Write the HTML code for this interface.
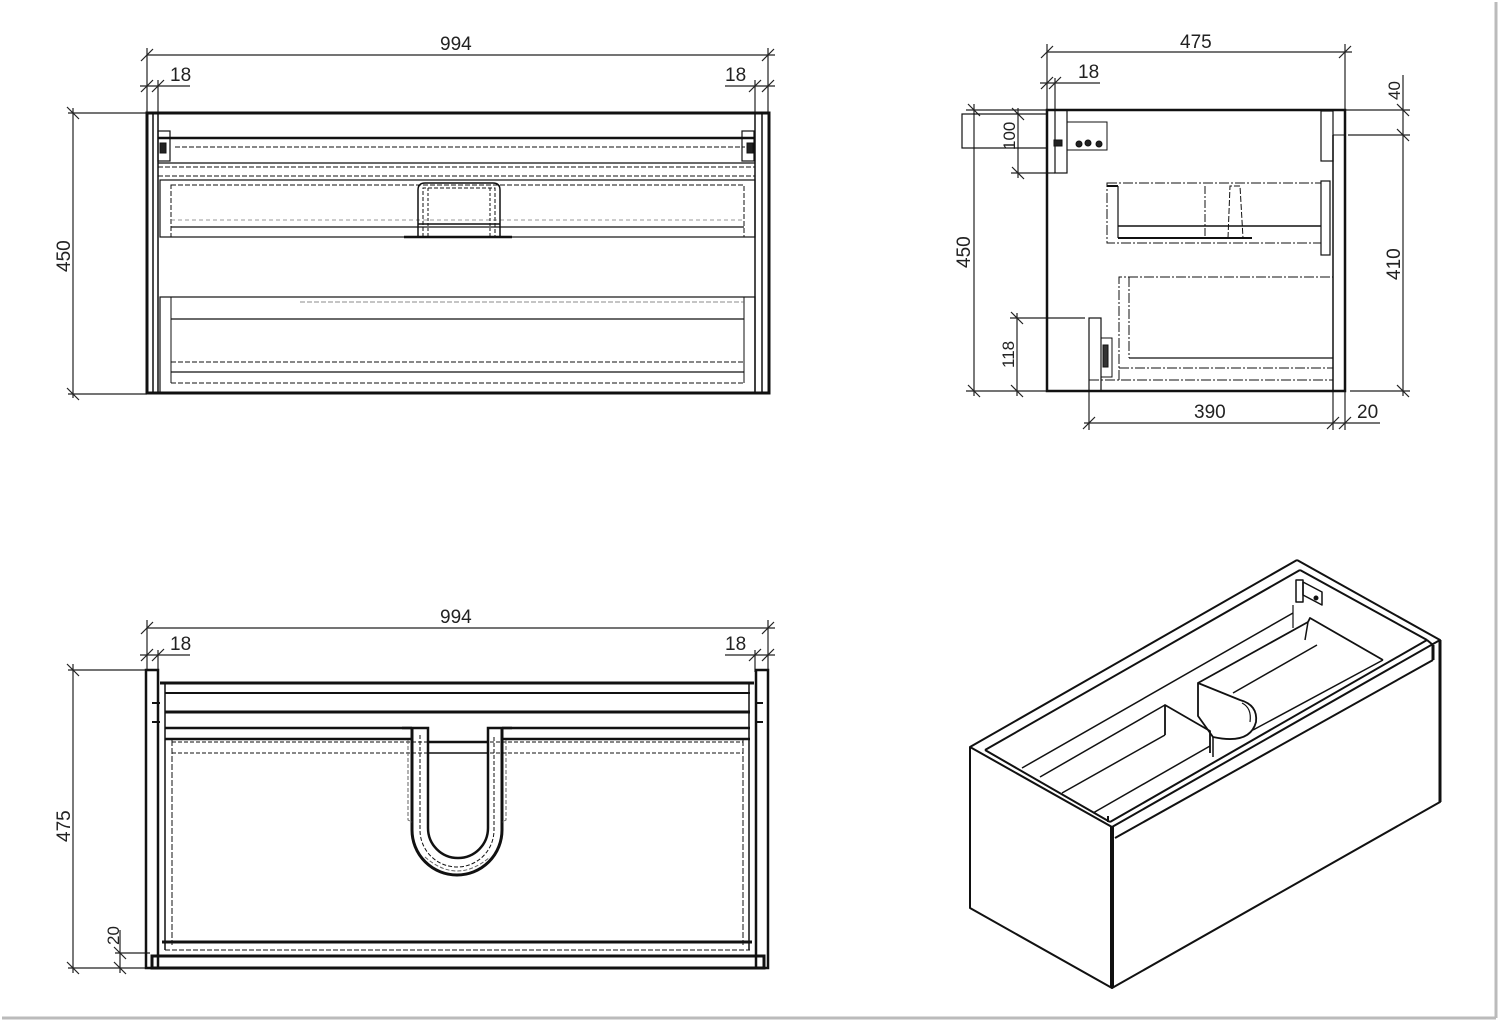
<!DOCTYPE html>
<html><head><meta charset="utf-8"><style>
html,body{margin:0;padding:0;background:#fff;}
svg{display:block;}
text{font-family:"Liberation Sans Narrow","Liberation Sans",sans-serif;font-size:19px;fill:#222;}
</style></head><body>
<svg width="1500" height="1022" viewBox="0 0 1500 1022" xmlns="http://www.w3.org/2000/svg">
<rect x="0" y="0" width="1500" height="1022" fill="#fff"/>
<line x1="2" y1="1018" x2="1496" y2="1018" stroke="#bbb" stroke-width="3"/>
<line x1="1496" y1="2" x2="1496" y2="1018" stroke="#bbb" stroke-width="3"/>

<g stroke="#222" fill="none" stroke-width="1.2">
<line x1="147" y1="48" x2="147" y2="113"/><line x1="768" y1="48" x2="768" y2="113"/>
<line x1="147" y1="55" x2="775" y2="55"/>
<line x1="141" y1="61" x2="153" y2="49"/><line x1="762" y1="61" x2="774" y2="49"/>
<line x1="158" y1="80" x2="158" y2="113"/><line x1="755" y1="80" x2="755" y2="113"/>
<line x1="140" y1="86" x2="190" y2="86"/><line x1="725" y1="86" x2="775" y2="86"/>
<line x1="141" y1="92" x2="153" y2="80"/><line x1="152" y1="92" x2="164" y2="80"/>
<line x1="749" y1="92" x2="761" y2="80"/><line x1="762" y1="92" x2="774" y2="80"/>
<line x1="68" y1="113" x2="147" y2="113"/><line x1="68" y1="394" x2="147" y2="394"/>
<line x1="73" y1="108" x2="73" y2="398"/>
<line x1="67" y1="107" x2="79" y2="119"/><line x1="67" y1="388" x2="79" y2="400"/>
</g>
<text x="440" y="50">994</text>
<text x="170" y="81">18</text>
<text x="725" y="81">18</text>
<text transform="translate(70,272) rotate(-90)">450</text>

<g stroke="#111" fill="none">
<rect x="147" y="113" width="622" height="280" stroke-width="3"/>
<line x1="153" y1="113" x2="153" y2="393" stroke-width="1.5"/>
<line x1="158" y1="113" x2="158" y2="393" stroke-width="1.5"/>
<line x1="755" y1="113" x2="755" y2="393" stroke-width="1.5"/>
<line x1="762" y1="113" x2="762" y2="393" stroke-width="1.5"/>
<line x1="158" y1="138" x2="755" y2="138" stroke-width="2.5"/>
<line x1="158" y1="163" x2="755" y2="163" stroke-width="1.2"/>
<line x1="158" y1="167" x2="755" y2="167" stroke-width="1" stroke-dasharray="5,2"/>
<line x1="158" y1="176" x2="755" y2="176" stroke-width="1" stroke-dasharray="5,2"/>
<line x1="175" y1="147" x2="745" y2="147" stroke-width="1" stroke-dasharray="5,2"/>
<rect x="158" y="131" width="12" height="30" stroke-width="1.2"/>
<rect x="742" y="131" width="12" height="30" stroke-width="1.2"/>
<rect x="160" y="143" width="6" height="10" fill="#222"/>
<rect x="747" y="143" width="6" height="10" fill="#222"/>
<rect x="160" y="180" width="595" height="57" stroke-width="1.2"/>
<rect x="171" y="185" width="573" height="52" stroke-width="1" stroke-dasharray="5,2"/>
<line x1="171" y1="227" x2="744" y2="227" stroke-width="1.2"/>
<line x1="171" y1="220" x2="744" y2="220" stroke-width="0.8" stroke-dasharray="4,3" stroke="#777"/>
<path d="M418 237 L418 190 Q418 183 425 183 L493 183 Q500 183 500 190 L500 237" stroke-width="1.5"/>
<path d="M423 237 L423 188 L495 188 L495 237" stroke-width="1" stroke-dasharray="4,2"/>
<line x1="428" y1="188" x2="428" y2="237" stroke-width="1" stroke-dasharray="3,2"/>
<line x1="490" y1="188" x2="490" y2="237" stroke-width="1" stroke-dasharray="3,2"/>
<line x1="418" y1="224" x2="500" y2="224" stroke-width="1.5"/>
<line x1="404" y1="237" x2="512" y2="237" stroke-width="2.5"/>
<rect x="160" y="297" width="595" height="96" stroke-width="1.2"/>
<line x1="171" y1="297" x2="171" y2="383" stroke-width="1"/>
<line x1="744" y1="297" x2="744" y2="383" stroke-width="1"/>
<line x1="171" y1="319" x2="744" y2="319" stroke-width="1.2"/>
<line x1="171" y1="362" x2="744" y2="362" stroke-width="1" stroke-dasharray="5,2"/>
<line x1="171" y1="372" x2="744" y2="372" stroke-width="1.2"/>
<line x1="171" y1="383" x2="744" y2="383" stroke-width="1" stroke-dasharray="5,2"/>
<line x1="300" y1="302" x2="744" y2="302" stroke-width="0.8" stroke-dasharray="5,2" stroke="#666"/>
</g>

<g stroke="#222" fill="none" stroke-width="1.2">
<line x1="1047" y1="44" x2="1047" y2="110"/><line x1="1345" y1="44" x2="1345" y2="110"/>
<line x1="1047" y1="52" x2="1352" y2="52"/>
<line x1="1041" y1="58" x2="1053" y2="46"/><line x1="1339" y1="58" x2="1351" y2="46"/>
<line x1="1055" y1="78" x2="1055" y2="110"/>
<line x1="1040" y1="83" x2="1100" y2="83"/>
<line x1="1041" y1="89" x2="1053" y2="77"/><line x1="1049" y1="89" x2="1061" y2="77"/>
<line x1="966" y1="110" x2="1047" y2="110"/><line x1="966" y1="391" x2="1047" y2="391"/>
<line x1="974" y1="104" x2="974" y2="396"/>
<line x1="968" y1="104" x2="980" y2="116"/><line x1="968" y1="385" x2="980" y2="397"/>
<line x1="1018" y1="108" x2="1018" y2="178"/>
<line x1="1011" y1="173" x2="1055" y2="173"/>
<line x1="1012" y1="108" x2="1024" y2="120"/><line x1="1012" y1="167" x2="1024" y2="179"/>
<line x1="1010" y1="318" x2="1085" y2="318"/>
<line x1="1017" y1="313" x2="1017" y2="396"/>
<line x1="1011" y1="312" x2="1023" y2="324"/><line x1="1011" y1="385" x2="1023" y2="397"/>
<line x1="1345" y1="110" x2="1410" y2="110"/>
<line x1="1348" y1="135" x2="1410" y2="135"/>
<line x1="1350" y1="391" x2="1410" y2="391"/>
<line x1="1403" y1="75" x2="1403" y2="396"/>
<line x1="1397" y1="104" x2="1409" y2="116"/><line x1="1397" y1="129" x2="1409" y2="141"/><line x1="1397" y1="385" x2="1409" y2="397"/>
<line x1="1089" y1="391" x2="1089" y2="430"/>
<line x1="1333" y1="391" x2="1333" y2="430"/><line x1="1345" y1="391" x2="1345" y2="430"/>
<line x1="1084" y1="423" x2="1380" y2="423"/>
<line x1="1083" y1="429" x2="1095" y2="417"/><line x1="1327" y1="429" x2="1339" y2="417"/><line x1="1339" y1="429" x2="1351" y2="417"/>
</g>
<text x="1180" y="48">475</text>
<text x="1078" y="78">18</text>
<text transform="translate(970,268) rotate(-90)">450</text>
<text transform="translate(1015,150) rotate(-90)" style="font-size:17px">100</text>
<text transform="translate(1014,368) rotate(-90)" style="font-size:17px">118</text>
<text transform="translate(1400,280) rotate(-90)">410</text>
<text transform="translate(1400,100) rotate(-90)" style="font-size:17px">40</text>
<text x="1194" y="418">390</text>
<text x="1357" y="418">20</text>

<g stroke="#111" fill="none">
<rect x="1047" y="110" width="298" height="281" stroke-width="2.5"/>
<line x1="1333" y1="135" x2="1333" y2="391" stroke-width="1.5"/>
<line x1="1333" y1="135" x2="1345" y2="135" stroke-width="1"/>
<rect x="962" y="114" width="85" height="34" stroke-width="1.2"/>
<rect x="1055" y="110" width="12" height="63" stroke-width="1.2"/>
<rect x="1067" y="122" width="40" height="28" stroke-width="1"/>
<circle cx="1079" cy="144" r="3" fill="#222"/><circle cx="1088" cy="143" r="3" fill="#222"/><circle cx="1099" cy="144" r="3" fill="#222"/>
<rect x="1054" y="140" width="8" height="6" fill="#222"/>
<rect x="1321" y="111" width="12" height="50" stroke-width="1.2"/>
<rect x="1107" y="183" width="214" height="60" stroke-width="1" stroke-dasharray="10,2,2,2"/>
<line x1="1107" y1="186" x2="1118" y2="186" stroke-width="2"/>
<line x1="1118" y1="186" x2="1118" y2="238" stroke-width="1.2"/>
<line x1="1118" y1="226" x2="1321" y2="226" stroke-width="1.5"/>
<line x1="1118" y1="238" x2="1252" y2="238" stroke-width="2"/>
<path d="M1228 238 L1230 186 L1240 186 L1243 238" stroke-width="1" stroke-dasharray="6,2"/>
<line x1="1205" y1="186" x2="1205" y2="238" stroke-width="1" stroke-dasharray="8,2,2,2"/>
<rect x="1321" y="181" width="9" height="74" stroke-width="1.2"/>
<path d="M1119 380 L1119 277 L1333 277" stroke-width="1" stroke-dasharray="10,2,2,2"/>
<line x1="1129" y1="277" x2="1129" y2="358" stroke-width="1" stroke-dasharray="10,2,2,2"/>
<line x1="1129" y1="358" x2="1333" y2="358" stroke-width="1.2"/>
<line x1="1119" y1="368" x2="1333" y2="368" stroke-width="1" stroke-dasharray="10,2,2,2"/>
<line x1="1089" y1="380" x2="1333" y2="380" stroke-width="1" stroke-dasharray="10,2,2,2"/>
<rect x="1089" y="318" width="12" height="73" stroke-width="1.2"/>
<rect x="1101" y="338" width="11" height="39" stroke-width="1"/>
<rect x="1103" y="345" width="5" height="22" fill="#333"/>
</g>

<g stroke="#222" fill="none" stroke-width="1.2">
<line x1="147" y1="620" x2="147" y2="670"/><line x1="768" y1="620" x2="768" y2="670"/>
<line x1="147" y1="628" x2="775" y2="628"/>
<line x1="141" y1="634" x2="153" y2="622"/><line x1="762" y1="634" x2="774" y2="622"/>
<line x1="158" y1="650" x2="158" y2="672"/><line x1="755" y1="650" x2="755" y2="672"/>
<line x1="140" y1="655" x2="190" y2="655"/><line x1="725" y1="655" x2="775" y2="655"/>
<line x1="141" y1="661" x2="153" y2="649"/><line x1="152" y1="661" x2="164" y2="649"/>
<line x1="749" y1="661" x2="761" y2="649"/><line x1="762" y1="661" x2="774" y2="649"/>
<line x1="68" y1="670" x2="146" y2="670"/><line x1="68" y1="968" x2="146" y2="968"/>
<line x1="73" y1="664" x2="73" y2="973"/>
<line x1="67" y1="664" x2="79" y2="676"/><line x1="67" y1="962" x2="79" y2="974"/>
<line x1="115" y1="953" x2="150" y2="953"/>
<line x1="120" y1="930" x2="120" y2="973"/>
<line x1="114" y1="947" x2="126" y2="959"/><line x1="114" y1="962" x2="126" y2="974"/>
</g>
<text x="440" y="623">994</text>
<text x="170" y="650">18</text>
<text x="725" y="650">18</text>
<text transform="translate(70,842) rotate(-90)">475</text>
<text transform="translate(119,945) rotate(-90)" style="font-size:17px">20</text>

<g stroke="#111" fill="none">
<rect x="146" y="670" width="12" height="298" stroke-width="2.5"/>
<rect x="756" y="670" width="12" height="298" stroke-width="2.5"/>
<line x1="160" y1="683" x2="754" y2="683" stroke-width="3"/>
<line x1="165" y1="693" x2="750" y2="693" stroke-width="2"/>
<line x1="165" y1="712" x2="750" y2="712" stroke-width="3"/>
<line x1="165" y1="728" x2="412" y2="728" stroke-width="2.5"/>
<line x1="502" y1="728" x2="750" y2="728" stroke-width="2.5"/>
<line x1="165" y1="739" x2="412" y2="739" stroke-width="2.5"/>
<line x1="502" y1="739" x2="750" y2="739" stroke-width="2.5"/>
<line x1="172" y1="742" x2="743" y2="742" stroke-width="1" stroke-dasharray="4,2"/>
<line x1="172" y1="753" x2="743" y2="753" stroke-width="1" stroke-dasharray="4,2"/>
<line x1="165" y1="683" x2="165" y2="950" stroke-width="1.5"/>
<line x1="172" y1="740" x2="172" y2="945" stroke-width="1" stroke-dasharray="6,2"/>
<line x1="749" y1="683" x2="749" y2="950" stroke-width="1.5"/>
<line x1="743" y1="740" x2="743" y2="945" stroke-width="1" stroke-dasharray="6,2"/>
<line x1="162" y1="942" x2="752" y2="942" stroke-width="3"/>
<line x1="165" y1="950" x2="750" y2="950" stroke-width="1" stroke-dasharray="5,2"/>
<rect x="152" y="956" width="612" height="12" stroke-width="3"/>
<path d="M152 703 h8 M152 722 h8 M755 703 h8 M755 722 h8" stroke-width="2"/>
<path d="M402 728 L428 728 L428 828 A29 29 0 0 0 488 828 L488 728 L512 728" stroke-width="2.5"/>
<path d="M412 728 L412 830 A45 45 0 0 0 502 830 L502 728" stroke-width="3"/>
<path d="M420 735 L420 830 A37 37 0 0 0 494 830 L494 735" stroke-width="1" stroke-dasharray="4,2"/>
<line x1="428" y1="742" x2="488" y2="742" stroke-width="2.5"/>
<line x1="428" y1="753" x2="488" y2="753" stroke-width="1.5"/>
<path d="M408 740 L408 820 L412 822 M506 740 L506 820 L502 822" stroke-width="1" stroke-dasharray="4,2" stroke="#666"/>
<path d="M425 857 Q457 885 490 857" stroke-width="1" stroke-dasharray="4,2" stroke="#666"/>
</g>

<!-- ================= ISOMETRIC ================= -->
<g stroke="#111" fill="none" stroke-width="2" stroke-linejoin="round">
<polygon points="970,747 1112,827 1112,988 970,908" fill="#fff"/>
<polygon points="1112,827 1440,640 1440,802 1112,988" fill="#fff"/>
<line x1="1112" y1="827" x2="1112" y2="988" stroke-width="4"/>
<line x1="1440" y1="640" x2="1440" y2="802" stroke-width="3"/>
<line x1="970" y1="747" x2="1297" y2="560"/>
<line x1="1297" y1="560" x2="1440" y2="640"/>
<line x1="985" y1="750" x2="1300" y2="570"/>
<line x1="1300" y1="570" x2="1427" y2="640"/>
<line x1="985" y1="750" x2="1110" y2="822"/>
<line x1="1110" y1="822" x2="1427" y2="640"/>
<line x1="1115" y1="838" x2="1433" y2="660"/>
<line x1="1427" y1="640" x2="1433" y2="645"/>
<line x1="1433" y1="645" x2="1433" y2="660" stroke-width="3"/>
<line x1="1108" y1="816" x2="1108" y2="822"/>
<!-- back wall base -->
<line x1="1022" y1="768" x2="1293" y2="613" stroke-width="1.5"/>
<!-- left basin -->
<line x1="1040" y1="777" x2="1165" y2="705" stroke-width="1.5"/>
<line x1="1062" y1="793" x2="1165" y2="735" stroke-width="1.5"/>
<line x1="1093" y1="813" x2="1210" y2="746" stroke-width="1.5"/>
<polyline points="1165,735 1165,705 1210,731 1210,753" stroke-width="1.8"/>
<!-- right basin -->
<line x1="1198" y1="683" x2="1308" y2="622" stroke-width="1.8"/>
<polyline points="1308,622 1310,618 1383,660" stroke-width="1.8"/>
<line x1="1308" y1="622" x2="1305" y2="640" stroke-width="1.5"/>
<line x1="1233" y1="693" x2="1317" y2="645" stroke-width="1.5"/>
<line x1="1253" y1="730" x2="1383" y2="660" stroke-width="1.5"/>
<!-- trap -->
<path d="M1198,683 L1198,716 L1213,737 Q1250,745 1256,722 Q1258,705 1240,700 Z" stroke-width="1.8"/>
<path d="M1242,703 Q1252,708 1250,722" stroke-width="1.2"/>
<line x1="1213" y1="737" x2="1213" y2="757" stroke-width="1.5"/>
<!-- bracket -->
<rect x="1296" y="580" width="7" height="22" stroke-width="1.5"/>
<polygon points="1303,582 1322,592 1322,605 1303,595" stroke-width="1.5"/>
<circle cx="1316" cy="598" r="1.5" fill="#111"/>
<line x1="1293" y1="605" x2="1293" y2="628" stroke-width="1.2"/>
</g>
</svg>
</body></html>
